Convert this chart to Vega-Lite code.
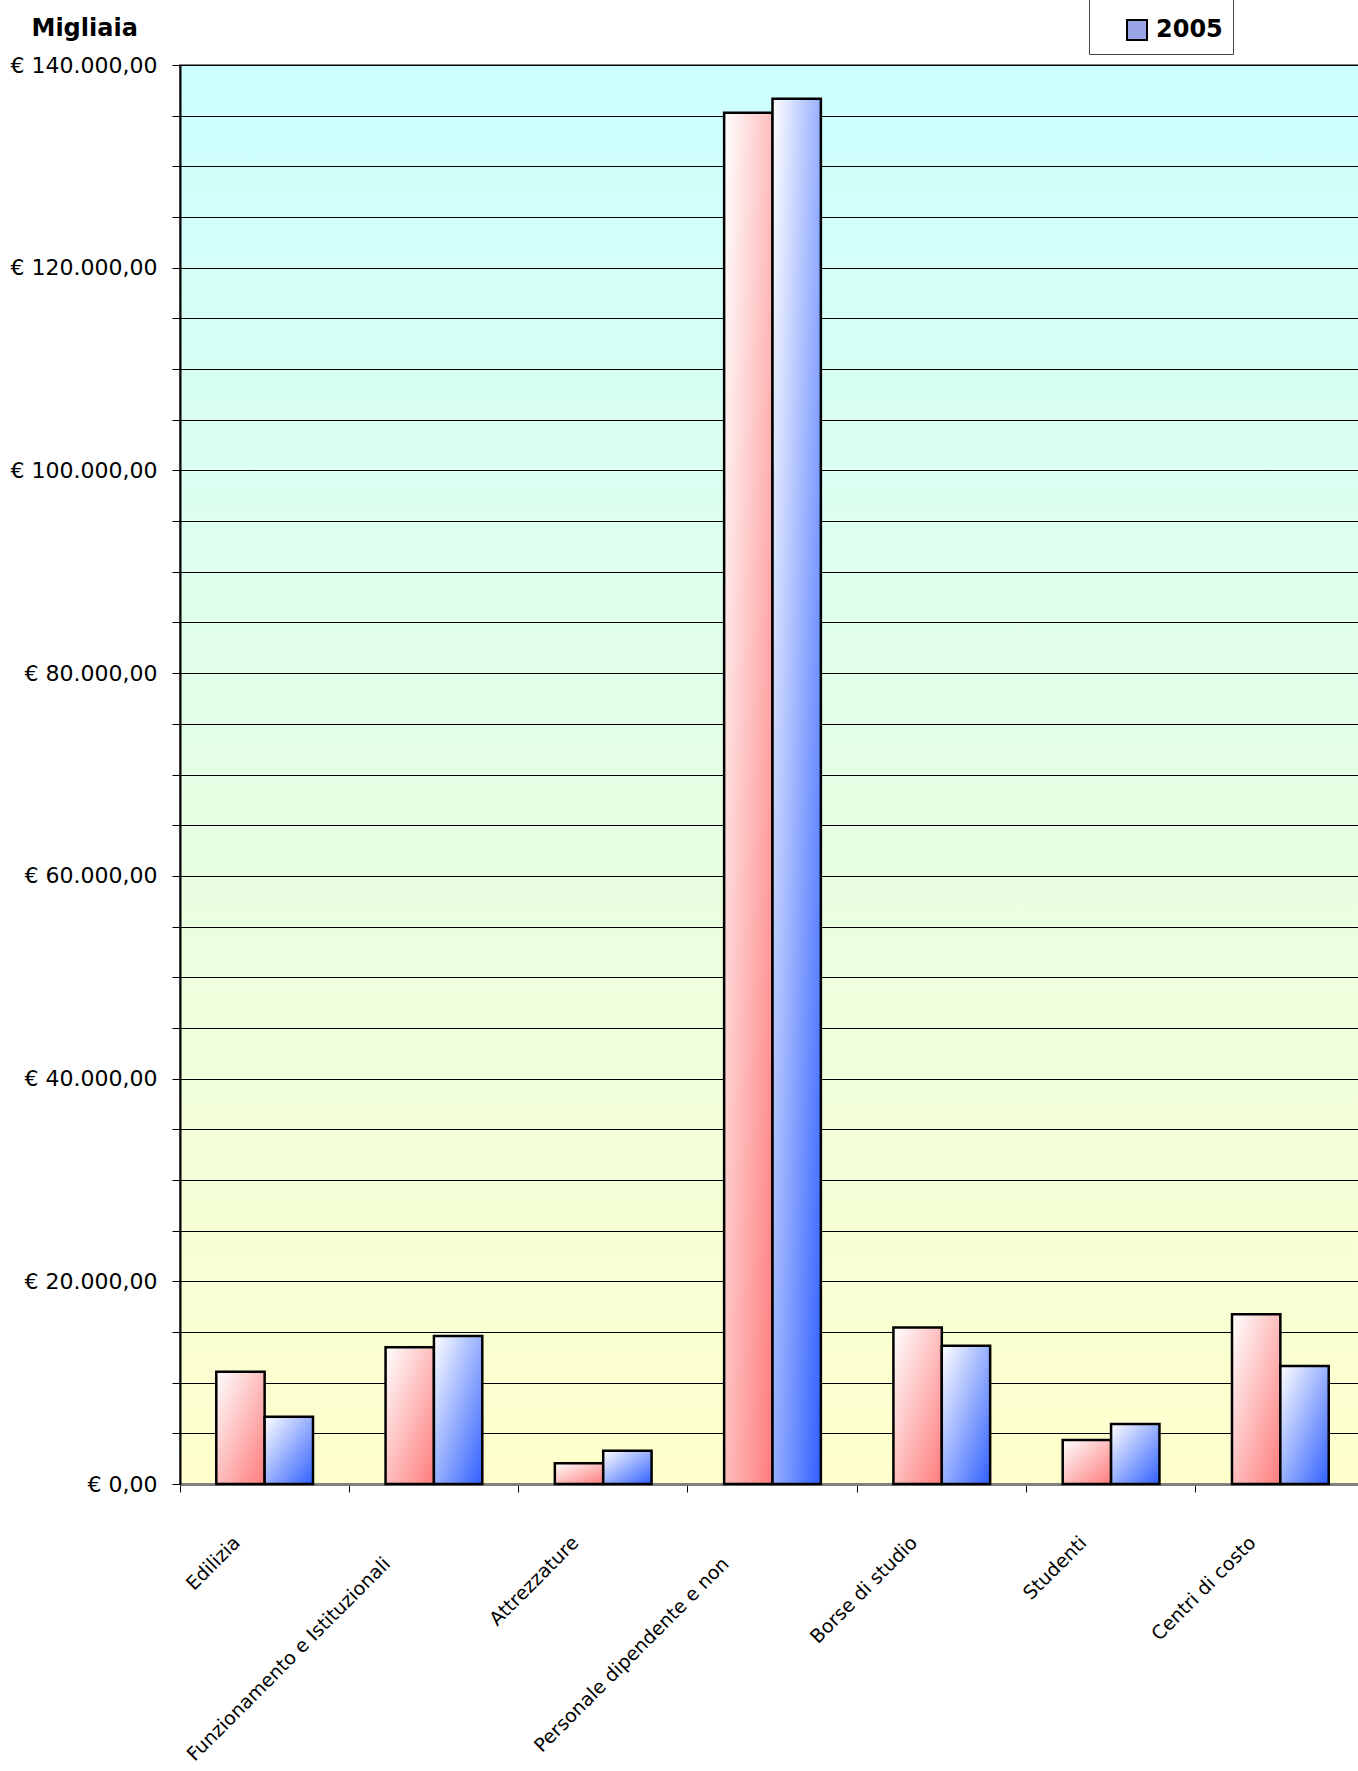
{
  "$schema": "https://vega.github.io/schema/vega-lite/v6.json",
  "width": 1185,
  "height": 1419,
  "autosize": {"type": "none"},
  "padding": {"left": 180, "top": 65, "right": -7, "bottom": 287},
  "background": "white",
  "data": {"values": [
    {"voce": "Edilizia", "anno": "2004", "valore": 11070},
    {"voce": "Edilizia", "anno": "2005", "valore": 6640},
    {"voce": "Funzionamento e Istituzionali", "anno": "2004", "valore": 13480},
    {"voce": "Funzionamento e Istituzionali", "anno": "2005", "valore": 14600},
    {"voce": "Attrezzature", "anno": "2004", "valore": 2040},
    {"voce": "Attrezzature", "anno": "2005", "valore": 3290},
    {"voce": "Personale dipendente e non", "anno": "2004", "valore": 135300},
    {"voce": "Personale dipendente e non", "anno": "2005", "valore": 136660},
    {"voce": "Borse di studio", "anno": "2004", "valore": 15450},
    {"voce": "Borse di studio", "anno": "2005", "valore": 13640},
    {"voce": "Studenti", "anno": "2004", "valore": 4340},
    {"voce": "Studenti", "anno": "2005", "valore": 5920},
    {"voce": "Centri di costo", "anno": "2004", "valore": 16740},
    {"voce": "Centri di costo", "anno": "2005", "valore": 11640}
  ]},
  "encoding": {
    "x": {
      "field": "voce", "type": "nominal", "sort": null,
      "scale": {"paddingInner": 0, "paddingOuter": 0},
      "axis": {
        "title": null, "bandPosition": 0, "ticks": true, "tickSize": 8, "tickColor": "black", "tickWidth": 1,
        "domainColor": "#808080", "domainWidth": 3, "grid": false,
        "labelAngle": -45, "labelAlign": "right", "labelBaseline": "top",
        "labelFont": "DejaVu Sans", "labelFontSize": 19, "labelColor": "black", "labelLimit": 0, "labelOverlap": false,
        "labelOffset": {"condition": {"test": "datum.value == 'Funzionamento e Istituzionali' || datum.value == 'Personale dipendente e non'", "value": -53}, "value": -34},
        "labelPadding": {"condition": {"test": "datum.value == 'Funzionamento e Istituzionali' || datum.value == 'Personale dipendente e non'", "value": 62}, "value": 41}
      }
    },
    "xOffset": {"field": "anno", "type": "nominal", "sort": ["2004", "2005"], "scale": {"paddingInner": 0, "paddingOuter": 0.75}},
    "y": {
      "field": "valore", "type": "quantitative",
      "scale": {"domain": [0, 140000], "nice": false, "zero": true},
      "axis": {
        "title": "Migliaia", "titleAngle": 0, "titleAlign": "left", "titleBaseline": "alphabetic",
        "titleX": -149, "titleY": -30, "titleFont": "DejaVu Sans", "titleFontSize": 24, "titleFontWeight": "bold", "titleColor": "black",
        "values": [0, 5000, 10000, 15000, 20000, 25000, 30000, 35000, 40000, 45000, 50000, 55000, 60000, 65000, 70000, 75000, 80000, 85000, 90000, 95000, 100000, 105000, 110000, 115000, 120000, 125000, 130000, 135000, 140000],
        "labelExpr": "datum.value % 20000 == 0 ? (datum.value == 0 ? '€ 0,00' : '€ ' + format(datum.value / 1000, 'd') + '.000,00') : ''",
        "grid": true, "gridColor": "black", "gridWidth": 1, "gridOpacity": 1,
        "tickSize": 8, "tickColor": "black", "tickWidth": 1,
        "domainColor": "black", "domainWidth": 2,
        "labelFont": "DejaVu Sans", "labelFontSize": 22, "labelColor": "black", "labelPadding": 15,
        "labelFlush": false, "labelOverlap": false, "labelBound": false
      }
    }
  },
  "layer": [
    {
      "mark": {"type": "bar", "opacity": 0},
      "encoding": {
        "color": {
          "field": "anno", "type": "nominal",
          "scale": {"domain": ["2004", "2005"], "range": ["#FF8080", "#9AA4E4"]},
          "legend": {
            "values": ["2005"],
            "title": "\u00a0\u00a0\u00a0\u00a0\u00a0\u00a0\u00a0\u00a0\u00a0\u00a0\u00a0\u00a0\u00a0\u00a0\u00a0\u00a0\u00a0\u00a0\u00a0\u00a0\u00a0\u00a0\u00a0\u00a0",
            "titleFont": "DejaVu Sans", "titleFontSize": 20, "titlePadding": 6, "titleLimit": 0,
            "orient": "none", "legendX": 909, "legendY": -83,
            "strokeColor": "#444444", "fillColor": "white", "padding": 10,
            "symbolType": "square", "symbolSize": 400, "symbolStrokeColor": "black", "symbolStrokeWidth": 2, "symbolOpacity": 1,
            "symbolOffset": 26, "labelOffset": 7,
            "labelFont": "DejaVu Sans", "labelFontSize": 24, "labelFontWeight": "bold", "labelColor": "black"
          }
        }
      }
    },
    {
      "mark": {"type": "bar", "stroke": "black", "strokeWidth": 2.5},
      "encoding": {
        "color": {
          "condition": {"test": "datum.anno == '2004'", "value": {"gradient": "linear", "x1": 0, "y1": 0, "x2": 1, "y2": 1, "stops": [{"offset": 0, "color": "#FFFFFF"}, {"offset": 1, "color": "#FF7C7C"}]}},
          "value": {"gradient": "linear", "x1": 0, "y1": 0, "x2": 1, "y2": 1, "stops": [{"offset": 0, "color": "#FFFFFF"}, {"offset": 1, "color": "#3060FF"}]}
        }
      }
    }
  ],
  "config": {
    "view": {
      "fill": {"gradient": "linear", "x1": 0, "y1": 0, "x2": 0, "y2": 1, "stops": [{"offset": 0, "color": "#CCFFFF"}, {"offset": 1, "color": "#FFFFCC"}]},
      "stroke": "#808080", "strokeWidth": 2
    }
  }
}
